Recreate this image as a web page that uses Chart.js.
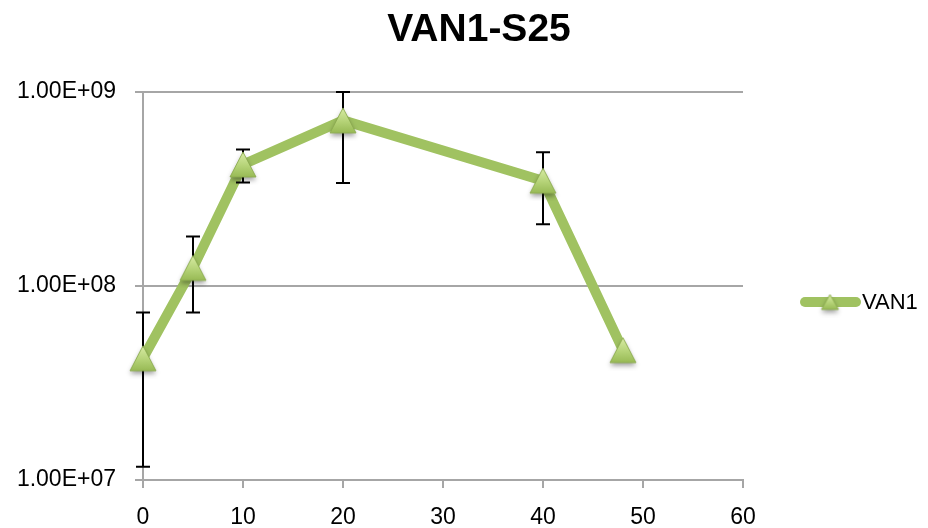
<!DOCTYPE html>
<html>
<head>
<meta charset="utf-8">
<script src="https://cdn.jsdelivr.net/npm/chart.js@4.4.1/dist/chart.umd.min.js"></script>
<style>
  html, body { margin: 0; padding: 0; background: #fff; }
  #wrap { width: 928px; height: 528px; position: relative; }
</style>
</head>
<body>
<div id="wrap"><canvas id="c" width="928" height="528"></canvas></div>
<script>
// ---- data ----
const chartTitle = 'VAN1-S25';
const seriesName = 'VAN1';
const timePoints = [0, 5, 10, 20, 40, 48];
const van1 = [4.24e7, 1.24e8, 4.23e8, 7.14e8, 3.49e8, 4.67e7];
const van1ErrHigh = [7.3e7, 1.8e8, 5.05e8, 1.0e9, 4.89e8, null];
const van1ErrLow = [1.17e7, 7.3e7, 3.42e8, 3.4e8, 2.08e8, null];
const yTickValues = [1e7, 1e8, 1e9];
const yTickLabels = ['1.00E+07', '1.00E+08', '1.00E+09'];

const GREEN = '#a0c261';
const GRID = '#a6a6a6';
const FONT = '"Liberation Sans", Arial, sans-serif';

// bevelled triangle marker with soft drop shadow
function makeTriangle(w, h) {
  const pad = 8;
  const cv = document.createElement('canvas');
  cv.width = w + pad * 2;
  cv.height = h + pad * 2;
  const g = cv.getContext('2d');
  const cx = cv.width / 2, cy = cv.height / 2;
  g.save();
  g.shadowColor = 'rgba(0,0,0,0.38)';
  g.shadowBlur = 5;
  g.shadowOffsetY = 3;
  g.beginPath();
  g.moveTo(cx, cy - h / 2);
  g.lineTo(cx + w / 2, cy + h / 2);
  g.lineTo(cx - w / 2, cy + h / 2);
  g.closePath();
  const grad = g.createLinearGradient(0, cy - h / 2, 0, cy + h / 2);
  grad.addColorStop(0, '#d9eca6');
  grad.addColorStop(0.55, '#b5d377');
  grad.addColorStop(1, '#98ba55');
  g.fillStyle = grad;
  g.fill();
  g.restore();
  g.beginPath();
  g.moveTo(cx, cy - h / 2);
  g.lineTo(cx + w / 2, cy + h / 2);
  g.lineTo(cx - w / 2, cy + h / 2);
  g.closePath();
  g.strokeStyle = 'rgba(140,172,80,0.9)';
  g.lineWidth = 1;
  g.stroke();
  return cv;
}
const marker = makeTriangle(26, 25);
const legendMarker = makeTriangle(17, 15);

// error bars, drawn after the line and before the markers
const errorBars = {
  id: 'errorBars',
  afterDatasetDraw(chart, args) {
    if (args.index !== 0) return;
    const { ctx, scales: { x, y } } = chart;
    ctx.save();
    ctx.strokeStyle = '#000';
    ctx.lineWidth = 2;
    timePoints.forEach((t, i) => {
      if (van1ErrHigh[i] == null) return;
      const px = Math.round(x.getPixelForValue(t));
      const top = y.getPixelForValue(van1ErrHigh[i]);
      const bot = y.getPixelForValue(van1ErrLow[i]);
      ctx.beginPath();
      ctx.moveTo(px, top); ctx.lineTo(px, bot);
      ctx.moveTo(px - 7, top); ctx.lineTo(px + 7, top);
      ctx.moveTo(px - 7, bot); ctx.lineTo(px + 7, bot);
      ctx.stroke();
    });
    ctx.restore();
  }
};

// title and legend
const decorations = {
  id: 'decorations',
  afterDraw(chart) {
    const ctx = chart.ctx;
    ctx.save();
    ctx.fillStyle = '#000';
    ctx.font = 'bold 39px ' + FONT;
    ctx.textAlign = 'center';
    ctx.textBaseline = 'alphabetic';
    ctx.fillText(chartTitle, 479, 41);

    const ly = 302;
    ctx.strokeStyle = GREEN;
    ctx.lineWidth = 10;
    ctx.lineCap = 'round';
    ctx.beginPath();
    ctx.moveTo(805, ly); ctx.lineTo(856, ly);
    ctx.stroke();
    ctx.drawImage(legendMarker, 830 - legendMarker.width / 2, ly - legendMarker.height / 2);
    ctx.font = '22px ' + FONT;
    ctx.textAlign = 'left';
    ctx.textBaseline = 'middle';
    ctx.fillText(seriesName, 862, ly + 1);
    ctx.restore();
  }
};

const pts = timePoints.map((t, i) => ({ x: t, y: van1[i] }));

new Chart(document.getElementById('c'), {
  type: 'line',
  data: {
    datasets: [
      {
        label: seriesName,
        data: pts,
        borderColor: GREEN,
        borderWidth: 10,
        borderJoinStyle: 'round',
        borderCapStyle: 'round',
        pointRadius: 0,
        fill: false,
        tension: 0,
        clip: false,
        order: 2
      },
      {
        label: seriesName + ' markers',
        data: pts,
        showLine: false,
        pointStyle: marker,
        pointRadius: 13,
        clip: false,
        order: 1
      }
    ]
  },
  plugins: [errorBars, decorations],
  options: {
    responsive: false,
    animation: false,
    events: [],
    layout: { padding: { top: 92, right: 185, left: 0, bottom: 0 } },
    plugins: {
      legend: { display: false },
      title: { display: false },
      tooltip: { enabled: false }
    },
    scales: {
      x: {
        type: 'linear',
        min: 0, max: 60,
        ticks: { stepSize: 10, color: '#000', font: { family: FONT, size: 23 }, padding: 16, maxRotation: 0 },
        grid: { drawOnChartArea: false, drawTicks: true, tickLength: 8, color: GRID, lineWidth: 2 },
        border: { display: true, color: GRID, width: 2 },
        afterFit(s) { s.height = 48; }
      },
      y: {
        type: 'logarithmic',
        min: yTickValues[0], max: yTickValues[yTickValues.length - 1],
        afterBuildTicks(s) { s.ticks = yTickValues.map(v => ({ value: v })); },
        ticks: {
          color: '#000', font: { family: FONT, size: 23 }, padding: 19,
          callback(v) { const k = yTickValues.indexOf(v); return k >= 0 ? yTickLabels[k] : ''; }
        },
        grid: { drawOnChartArea: true, drawTicks: true, tickLength: 8, color: GRID, lineWidth: 2 },
        border: { display: true, color: GRID, width: 2 },
        afterFit(s) { s.width = 143; }
      }
    }
  }
});
</script>
</body>
</html>
